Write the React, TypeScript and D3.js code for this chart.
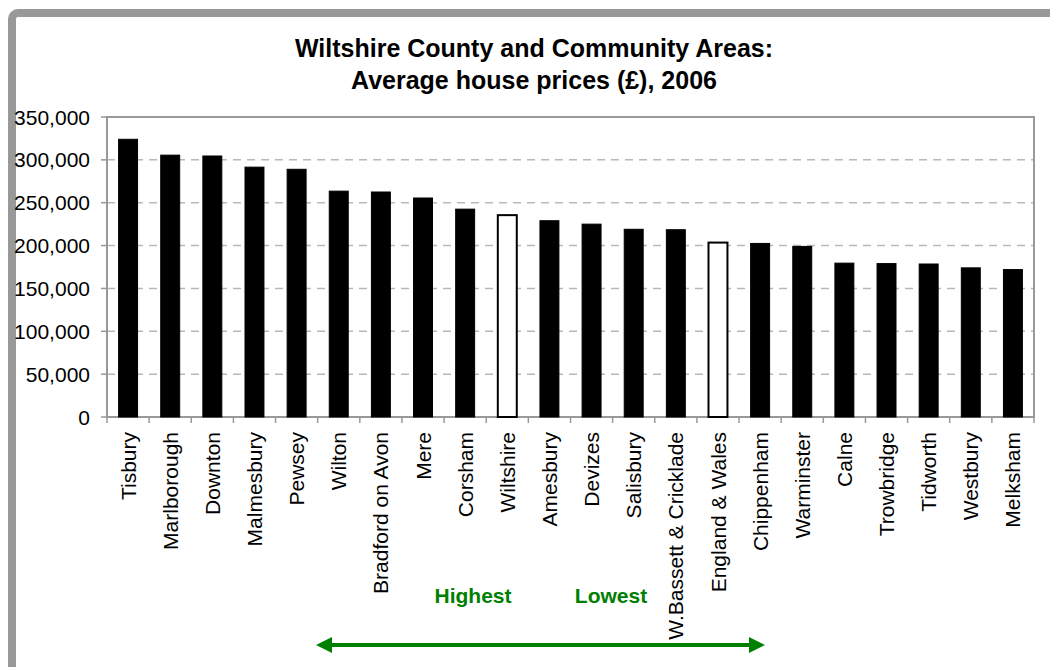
import * as d3 from 'd3'

const areas = [
  'Tisbury', 'Marlborough', 'Downton', 'Malmesbury', 'Pewsey', 'Wilton',
  'Bradford on Avon', 'Mere', 'Corsham', 'Wiltshire', 'Amesbury', 'Devizes',
  'Salisbury', 'W.Bassett & Cricklade', 'England & Wales', 'Chippenham',
  'Warminster', 'Calne', 'Trowbridge', 'Tidworth', 'Westbury', 'Melksham',
]
const prices = [
  324000, 305500, 304500, 291500, 289000, 263500,
  262500, 255500, 242500, 235500, 229000, 225000,
  219000, 218500, 203500, 202500,
  199000, 179500, 179000, 178500, 174000, 172000,
]
// comparison bars drawn hollow
const benchmarks = ['Wiltshire', 'England & Wales']
const yTicks = [0, 50000, 100000, 150000, 200000, 250000, 300000, 350000]

const W = 1050
const H = 667
const font = '"Liberation Sans", Arial, sans-serif'
const green = '#008000'

export default function App() {
  const left = 107
  const right = 1034
  const top = 117
  const bottom = 417

  const x = d3.scaleBand<string>()
    .domain(areas)
    .range([left, right])
    .paddingInner(0.55)
    .paddingOuter(0.275)
  const y = d3.scaleLinear().domain([0, 350000]).range([bottom, top])
  const fmt = d3.format(',')
  const step = x.step()

  const arrowY = 645
  const arrowL = 316
  const arrowR = 765

  return (
    <div style={{ position: 'absolute', left: 0, top: 0 }}>
      <svg width={W} height={H} style={{ display: 'block', background: '#fff' }}>
        {/* outer frame */}
        <rect x={12} y={13} width={1200} height={800} rx={6}
          fill="none" stroke="#999" strokeWidth={8} />

        <text x={534} y={57} textAnchor="middle" fontFamily={font}
          fontWeight="bold" fontSize={25}>
          Wiltshire County and Community Areas:
        </text>
        <text x={534} y={89} textAnchor="middle" fontFamily={font}
          fontWeight="bold" fontSize={25}>
          Average house prices (£), 2006
        </text>

        {/* gridlines */}
        {yTicks.filter(t => t > 0 && t < 350000).map(t => (
          <line key={t} x1={left} x2={right} y1={y(t)} y2={y(t)}
            stroke="#b8b8b8" strokeWidth={1.5} strokeDasharray="8,6" />
        ))}

        {/* plot border */}
        <rect x={left} y={top} width={right - left} height={bottom - top}
          fill="none" stroke="#999" strokeWidth={2} />

        {/* y ticks */}
        {yTicks.map(t => (
          <g key={t}>
            <line x1={left - 6} x2={left} y1={y(t)} y2={y(t)} stroke="#999" strokeWidth={1.5} />
            <text x={90} y={y(t)} dy="0.36em" textAnchor="end"
              fontFamily={font} fontSize={21}>{fmt(t)}</text>
          </g>
        ))}

        {/* x ticks at category boundaries */}
        {d3.range(areas.length + 1).map(i => {
          const xx = left + i * step
          return <line key={i} x1={xx} x2={xx} y1={bottom} y2={bottom + 6}
            stroke="#999" strokeWidth={1.5} />
        })}

        {/* bars */}
        {areas.map((a, i) => {
          const hollow = benchmarks.includes(a)
          return (
            <rect key={a} x={x(a)!} y={y(prices[i])} width={x.bandwidth()}
              height={bottom - y(prices[i])}
              fill={hollow ? '#fff' : '#000'} stroke="#000"
              strokeWidth={hollow ? 2 : 1} />
          )
        })}

        {/* category labels */}
        {areas.map(a => {
          const cx = x(a)! + x.bandwidth() / 2
          return (
            <text key={a} transform={`translate(${cx},432) rotate(-90)`}
              dy="0.36em" textAnchor="end" fontFamily={font} fontSize={21}>
              {a}
            </text>
          )
        })}

        <text x={473} y={603} textAnchor="middle" fontFamily={font}
          fontWeight="bold" fontSize={21} fill={green}>Highest</text>
        <text x={611} y={603} textAnchor="middle" fontFamily={font}
          fontWeight="bold" fontSize={21} fill={green}>Lowest</text>

        {/* double-headed arrow */}
        <line x1={arrowL + 12} x2={arrowR - 12} y1={arrowY} y2={arrowY}
          stroke={green} strokeWidth={4} />
        <path d={`M${arrowL},${arrowY} L${arrowL + 16},${arrowY - 8} L${arrowL + 16},${arrowY + 8} Z`}
          fill={green} />
        <path d={`M${arrowR},${arrowY} L${arrowR - 16},${arrowY - 8} L${arrowR - 16},${arrowY + 8} Z`}
          fill={green} />
      </svg>
    </div>
  )
}
